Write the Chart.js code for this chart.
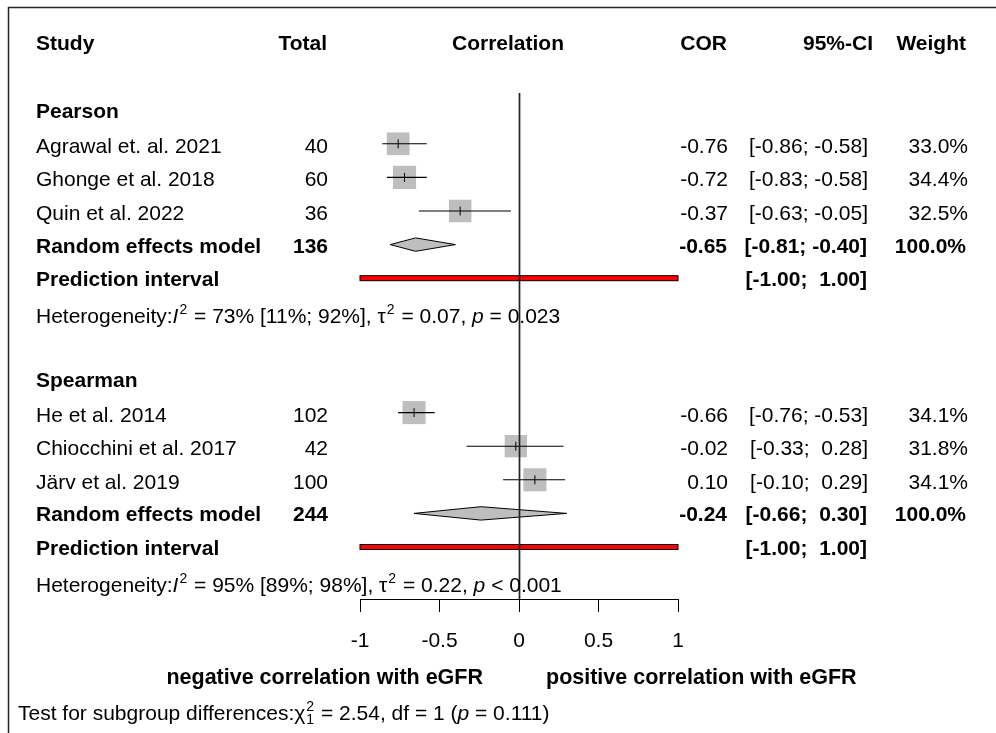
<!DOCTYPE html>
<html><head><meta charset="utf-8">
<script src="https://cdn.jsdelivr.net/npm/chart.js@4.4.0/dist/chart.umd.min.js"></script>
<style>html,body{margin:0;padding:0;background:#fff;}#wrap{width:996px;height:733px;position:relative;}</style>
</head><body><div id="wrap"><canvas id="c" width="996" height="733"></canvas></div>
<script>
// ---------------- data ----------------
const groups = ["Pearson", "Spearman"];
const studies = ["Agrawal et. al. 2021", "Ghonge et al. 2018", "Quin et al. 2022",
                 "He et al. 2014", "Chiocchini et al. 2017", "Järv et al. 2019"];
const studyGroup = [0, 0, 0, 1, 1, 1];
const totals  = [40, 60, 36, 102, 42, 100];
const cor     = [-0.76, -0.72, -0.37, -0.66, -0.02, 0.10];
const lower   = [-0.86, -0.83, -0.63, -0.76, -0.33, -0.10];
const upper   = [-0.58, -0.58, -0.05, -0.53, 0.28, 0.29];
const weights = [33.0, 34.4, 32.5, 34.1, 31.8, 34.1];
const reTotal = [136, 244];
const reCor   = [-0.65, -0.24];
const reLower = [-0.81, -0.66];
const reUpper = [-0.40, 0.30];
const reWeight = [100.0, 100.0];
const piLower = [-1.00, -1.00];
const piUpper = [1.00, 1.00];
const hetI2   = [73, 95];
const hetI2Lo = [11, 89];
const hetI2Hi = [92, 98];
const hetTau2 = [0.07, 0.22];
const hetP    = ["= 0.023", "< 0.001"];
const testChi2 = 2.54, testDf = 1, testP = 0.111;
const xTicks = [-1, -0.5, 0, 0.5, 1];
const leftLabel = "negative correlation with eGFR";
const rightLabel = "positive correlation with eGFR";

// ---------------- layout (rows) ----------------
const groupRow = groups.map((g, i) => 2 + 8 * i);
const studyRow = [];
(function () { const cnt = [0, 0]; studyGroup.forEach(g => { cnt[g]++; studyRow.push(groupRow[g] + cnt[g]); }); })();
const reRow  = groupRow.map(r => r + 4);
const piRow  = groupRow.map(r => r + 5);
const hetRow = groupRow.map(r => r + 6);

const FONT = "'Liberation Sans', Arial, Helvetica, sans-serif";
const FS = 21;
const ROW0 = 43, ROWH = 33.6, TOP = 93, BOTTOM = 599;

function fmt2(v) { return (v < 0 ? "-" : "") + Math.abs(v).toFixed(2); }
function fmtCI(lo, hi) {
  const s = v => (v < 0 ? "-" : " ") + Math.abs(v).toFixed(2);
  return "[" + s(lo) + "; " + s(hi) + "]";
}

const sqData = cor.map((v, i) => ({ x: v, y: studyRow[i] }));
const ciData = [];
cor.forEach((v, i) => { ciData.push({ x: lower[i], y: studyRow[i] }, { x: upper[i], y: studyRow[i] }, { x: null, y: null }); });

const forest = {
  id: 'forest',
  afterDatasetsDraw(chart) {
    const ctx = chart.ctx, xs = chart.scales.x, ys = chart.scales.y;
    ctx.save();
    // diamonds
    reCor.forEach((v, g) => {
      const y = ys.getPixelForValue(reRow[g]);
      const h = 6.7;
      ctx.beginPath();
      ctx.moveTo(xs.getPixelForValue(reLower[g]), y);
      ctx.lineTo(xs.getPixelForValue(v), y - h);
      ctx.lineTo(xs.getPixelForValue(reUpper[g]), y);
      ctx.lineTo(xs.getPixelForValue(v), y + h);
      ctx.closePath();
      ctx.fillStyle = '#BEBEBE'; ctx.fill();
      ctx.lineWidth = 1; ctx.strokeStyle = '#000'; ctx.stroke();
    });
    // prediction intervals
    piLower.forEach((lo, g) => {
      const y = ys.getPixelForValue(piRow[g]);
      const x1 = xs.getPixelForValue(lo), x2 = xs.getPixelForValue(piUpper[g]);
      ctx.fillStyle = '#FF0000';
      ctx.fillRect(x1, y - 2.5, x2 - x1, 5);
      ctx.lineWidth = 1; ctx.strokeStyle = '#000';
      ctx.strokeRect(x1, y - 2.5, x2 - x1, 5);
    });
    // reference line at 0
    const x0 = Math.round(xs.getPixelForValue(0)) + 0.5;
    ctx.beginPath();
    ctx.moveTo(x0, chart.chartArea.top);
    ctx.lineTo(x0, chart.chartArea.bottom);
    ctx.lineWidth = 1.7; ctx.strokeStyle = '#222'; ctx.stroke();
    ctx.restore();
  },
  afterDraw(chart) {
    const ctx = chart.ctx, xs = chart.scales.x, ys = chart.scales.y;
    const rp = r => ys.getPixelForValue(r);
    ctx.save();
    ctx.fillStyle = '#000';
    function txt(t, x, y, align, bold, italic, size) {
      ctx.font = (italic ? 'italic ' : '') + (bold ? 'bold ' : '') + (size || FS) + 'px ' + FONT;
      ctx.textAlign = align || 'left';
      ctx.textBaseline = 'alphabetic';
      ctx.fillText(t, x, y);
    }
    function rich(parts, x, y) {
      parts.forEach(p => {
        if (p.sup !== undefined || p.sub !== undefined) {
          let w = 0;
          ctx.font = '14px ' + FONT; ctx.textAlign = 'left';
          if (p.sup !== undefined) { ctx.fillText(p.sup, x + 1, y - 9); w = Math.max(w, ctx.measureText(p.sup).width); }
          if (p.sub !== undefined) { ctx.fillText(p.sub, x + 1, y + 4); w = Math.max(w, ctx.measureText(p.sub).width); }
          x += w + 2;
        } else {
          ctx.font = (p.i ? 'italic ' : '') + FS + 'px ' + FONT; ctx.textAlign = 'left';
          ctx.fillText(p.t, x, y);
          x += ctx.measureText(p.t).width;
        }
      });
    }
    const OFF = 8;
    const cStudy = 36, cTotal = 328, cCorr = 508, cCOR = 728, cCI = 868, cW = 968;
    // header
    const hy = ROW0 + 7;
    txt('Study', cStudy, hy, 'left', true);
    txt('Total', cTotal - 1, hy, 'right', true);
    txt('Correlation', cCorr, hy, 'center', true);
    txt('COR', cCOR - 1, hy, 'right', true);
    txt('95%-CI', cCI + 5, hy, 'right', true);
    txt('Weight', cW - 2, hy, 'right', true);
    // groups
    groups.forEach((g, gi) => txt(g, cStudy, rp(groupRow[gi]) + OFF, 'left', true));
    // studies
    studies.forEach((s, i) => {
      const y = rp(studyRow[i]) + OFF + 1;
      txt(s, cStudy, y, 'left');
      txt(String(totals[i]), cTotal, y, 'right');
      txt(fmt2(cor[i]), cCOR, y, 'right');
      txt(fmtCI(lower[i], upper[i]), cCI, y, 'right');
      txt(weights[i].toFixed(1) + '%', cW, y, 'right');
    });
    groups.forEach((g, gi) => {
      let y = rp(reRow[gi]) + OFF;
      txt('Random effects model', cStudy, y, 'left', true);
      txt(String(reTotal[gi]), cTotal, y, 'right', true);
      txt(fmt2(reCor[gi]), cCOR - 1, y, 'right', true);
      txt(fmtCI(reLower[gi], reUpper[gi]), cCI - 1, y, 'right', true);
      txt(reWeight[gi].toFixed(1) + '%', cW - 2, y, 'right', true);
      y = rp(piRow[gi]) + OFF;
      txt('Prediction interval', cStudy, y, 'left', true);
      txt(fmtCI(piLower[gi], piUpper[gi]), cCI - 1, y, 'right', true);
      y = rp(hetRow[gi]) + OFF + 3;
      rich([
        { t: 'Heterogeneity:' }, { t: 'I', i: true }, { sup: '2' },
        { t: ' = ' + hetI2[gi] + '% [' + hetI2Lo[gi] + '%; ' + hetI2Hi[gi] + '%], ' },
        { t: 'τ' }, { sup: '2' },
        { t: ' = ' + hetTau2[gi].toFixed(2) + ', ' }, { t: 'p', i: true }, { t: ' ' + hetP[gi] }
      ], cStudy, y);
    });
    // side labels
    const x0 = xs.getPixelForValue(0);
    txt(leftLabel, x0 - 36, 684, 'right', true, false, 21.5);
    txt(rightLabel, x0 + 27, 684, 'left', true, false, 21.5);
    // subgroup test
    rich([
      { t: 'Test for subgroup differences:' }, { t: 'χ' }, { sup: '2', sub: String(testDf) },
      { t: ' = ' + testChi2.toFixed(2) + ', df = ' + testDf + ' (' }, { t: 'p', i: true },
      { t: ' = ' + testP.toFixed(3) + ')' }
    ], 18, 720);
    // frame
    ctx.beginPath();
    ctx.moveTo(8.5, 733); ctx.lineTo(8.5, 7.5); ctx.lineTo(996, 7.5);
    ctx.lineWidth = 1.5; ctx.strokeStyle = '#222'; ctx.stroke();
    ctx.restore();
  }
};

new Chart(document.getElementById('c'), {
  type: 'scatter',
  data: {
    datasets: [
      { // point estimate tick
        data: sqData, pointStyle: 'line', rotation: 90, pointRadius: 4.5, pointHoverRadius: 4.5,
        borderColor: '#000', borderWidth: 1, backgroundColor: '#000'
      },
      { // confidence intervals
        type: 'line', data: ciData, showLine: true, spanGaps: false, pointRadius: 0,
        borderColor: '#000', borderWidth: 1.1, fill: false
      },
      { // weighted squares
        data: sqData, pointStyle: 'rect', borderWidth: 0,
        pointRadius: c => 3.95 * Math.sqrt(weights[c.dataIndex]) / Math.SQRT2,
        pointHoverRadius: c => 3.95 * Math.sqrt(weights[c.dataIndex]) / Math.SQRT2,
        backgroundColor: '#BEBEBE', borderColor: '#BEBEBE'
      }
    ]
  },
  options: {
    responsive: false, animation: false, events: [],
    layout: { padding: { left: 360, right: 318, top: TOP, bottom: 0 } },
    plugins: { legend: { display: false }, tooltip: { enabled: false } },
    scales: {
      x: {
        type: 'linear', min: -1, max: 1, position: 'bottom',
        afterBuildTicks: s => { s.ticks = xTicks.map(v => ({ value: v })); },
        afterFit: s => { s.height = 733 - BOTTOM; },
        ticks: { font: { family: FONT, size: FS }, color: '#000', padding: 17, maxRotation: 0, autoSkip: false,
                 callback: v => String(v) },
        grid: { drawOnChartArea: false, drawTicks: true, tickLength: 13, color: '#000', lineWidth: 1 },
        border: { display: true, color: '#000', width: 1 }
      },
      y: {
        type: 'linear', display: false, reverse: true,
        min: (TOP - ROW0) / ROWH, max: (BOTTOM - ROW0) / ROWH
      }
    }
  },
  plugins: [forest]
});
</script>
</body></html>
